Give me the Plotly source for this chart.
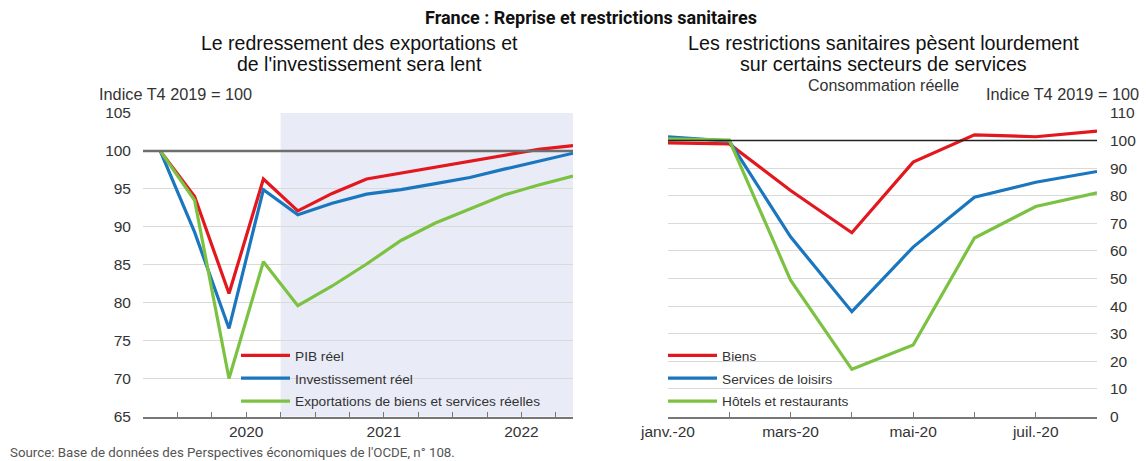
import plotly.graph_objects as go

# Left panel: quarterly indices (T4 2019 = 100)
quarters = ["T4 2019", "T1 2020", "T2 2020", "T3 2020", "T4 2020",
            "T1 2021", "T2 2021", "T3 2021", "T4 2021",
            "T1 2022", "T2 2022", "T3 2022", "T4 2022"]
pib = [100, 94.0, 81.2, 96.3, 92.1, 94.4, 96.3, 97.1, 97.9, 98.7, 99.5, 100.2, 100.7]
invest = [100, 89.3, 76.6, 94.9, 91.6, 93.1, 94.3, 94.9, 95.7, 96.5, 97.6, 98.6, 99.7]
exports = [100, 93.5, 70.0, 85.4, 79.6, 82.2, 85.1, 88.2, 90.5, 92.4, 94.2, 95.5, 96.7]
projection_start = "T4 2020"

# Right panel: monthly real consumption (T4 2019 = 100)
months = ["janv.-20", "févr.-20", "mars-20", "avr.-20",
          "mai-20", "juin-20", "juil.-20", "août-20"]
biens = [99.2, 98.8, 81.9, 66.6, 92.2, 102.1, 101.4, 103.4]
loisirs = [101.4, 99.8, 65.1, 38.0, 61.4, 79.5, 84.9, 88.8]
hotels = [100.6, 100.2, 49.4, 17.1, 25.9, 64.7, 76.1, 81.1]

RED = '#E3171E'
BLUE = '#1A76BE'
GREEN = '#7CC242'
FONT = 'Liberation Sans, Arial, sans-serif'
NARROW = 'Liberation Sans Narrow, Roboto, sans-serif'

W, H = 1146, 461

def px_x(p):
    return p / W

def px_y(p):
    return 1 - p / H

xq = list(range(len(quarters)))
years = sorted(set(q.split()[1] for q in quarters[1:]))
year_pos = {y: sum(i for i, q in enumerate(quarters) if q.endswith(y)) /
            sum(1 for q in quarters if q.endswith(y)) for y in years}
tick_vals = [i + 0.5 for i in xq[:-1]]
tick_text = [next((y for y, p in year_pos.items() if abs(p - v) < 1e-9), '') for v in tick_vals]

fig = go.Figure()

left = [("PIB réel", pib, RED), ("Investissement réel", invest, BLUE),
        ("Exportations de biens et services réelles", exports, GREEN)]
for i, (name, vals, col) in enumerate(left):
    fig.add_trace(go.Scatter(x=xq, y=vals, name=name, mode='lines',
                             line=dict(color=col, width=3.2),
                             xaxis='x', yaxis='y', legend='legend',
                             legendgroup='l%d' % i))

right = [("Biens", biens, RED), ("Services de loisirs", loisirs, BLUE),
         ("Hôtels et restaurants", hotels, GREEN)]
for i, (name, vals, col) in enumerate(right):
    fig.add_trace(go.Scatter(x=months, y=vals, name=name, mode='lines',
                             line=dict(color=col, width=3.2),
                             xaxis='x2', yaxis='y2', legend='legend2',
                             legendgroup='r%d' % i))

ydom = [px_y(416.5), px_y(113)]
legend_style = dict(xanchor='left', yanchor='top', bgcolor='rgba(0,0,0,0)',
                    font=dict(size=13.7, color='#333333'),
                    tracegroupgap=2, itemwidth=49)

fig.update_layout(
    width=W, height=H,
    margin=dict(l=0, r=0, t=0, b=0, autoexpand=False),
    paper_bgcolor='white', plot_bgcolor='rgba(0,0,0,0)',
    font=dict(family=FONT, color='#333333', size=14),
    xaxis=dict(domain=[px_x(143), px_x(573)], range=[-0.5, 12],
               tickvals=tick_vals, ticktext=tick_text, ticks='inside',
               ticklen=5, tickcolor='#777777', showline=True, linecolor='#777777',
               linewidth=1.5, showgrid=False, zeroline=False, automargin=False,
               tickfont=dict(size=15.5)),
    yaxis=dict(domain=ydom, range=[65, 105], dtick=5, showgrid=True,
               gridcolor='#DADADA', gridwidth=1, zeroline=False, automargin=False,
               ticks='', ticklabelstandoff=11, tickfont=dict(size=15.5)),
    xaxis2=dict(domain=[px_x(668), px_x(1097)], type='category',
                range=[0, len(months) - 1], tickvals=months,
                ticktext=[m if i % 2 == 0 else '' for i, m in enumerate(months)],
                ticks='inside', ticklen=5, tickcolor='#777777', showline=True,
                linecolor='#777777', linewidth=1.5, showgrid=False, automargin=False,
                tickfont=dict(size=15.5), anchor='y2'),
    yaxis2=dict(domain=ydom, range=[0, 110], dtick=10, side='right',
                anchor='x2', showgrid=True, gridcolor='#DADADA', zeroline=False,
                automargin=False, ticks='', ticklabelstandoff=12,
                tickfont=dict(size=15.5)),
    legend=dict(x=px_x(236), y=px_y(340), **legend_style),
    legend2=dict(x=px_x(663), y=px_y(340), **legend_style),
    showlegend=True,
)

# projection shading and reference lines at 100
fig.add_shape(type='rect', xref='x', yref='y domain',
              x0=quarters.index(projection_start) - 0.5, x1=len(quarters) - 1,
              y0=0, y1=1, fillcolor='#E9ECF6', line_width=0, layer='below')
fig.add_shape(type='line', xref='x domain', yref='y', x0=0, x1=1, y0=100, y1=100,
              line=dict(color='#6E6E6E', width=2.5))
fig.add_shape(type='line', xref='x2 domain', yref='y2', x0=0, x1=1, y0=100, y1=100,
              line=dict(color='#222222', width=1.5))

annotations = [
    dict(text="<b>France : Reprise et restrictions sanitaires</b>", x=px_x(591), y=px_y(18),
         font=dict(family=NARROW, size=18, color='#111111')),
    dict(text="Le redressement des exportations et", x=px_x(359), y=px_y(43),
         font=dict(size=19.5, color='#111111')),
    dict(text="de l'investissement sera lent", x=px_x(359), y=px_y(64),
         font=dict(size=19.5, color='#111111')),
    dict(text="Les restrictions sanitaires pèsent lourdement", x=px_x(883), y=px_y(43),
         font=dict(size=19.7, color='#111111')),
    dict(text="sur certains secteurs de services", x=px_x(883), y=px_y(64),
         font=dict(size=19.7, color='#111111')),
    dict(text="Consommation réelle", x=px_x(883), y=px_y(85), font=dict(size=16)),
    dict(text="Indice T4 2019 = 100", x=px_x(97), y=px_y(94), xanchor='left',
         font=dict(size=16.3)),
    dict(text="Indice T4 2019 = 100", x=px_x(1141), y=px_y(94), xanchor='right',
         font=dict(size=16.3)),
    dict(text="Source: Base de données des Perspectives économiques de l'OCDE, n° 108.",
         x=px_x(8), y=px_y(452), xanchor='left',
         font=dict(family=NARROW, size=13.3, color='#555555')),
]
for a in annotations:
    a.setdefault('xanchor', 'center')
    fig.add_annotation(xref='paper', yref='paper', yanchor='middle',
                       showarrow=False, **a)

fig.write_html("out.html", config={'displayModeBar': False},
               post_script="document.body.style.margin='0';")
